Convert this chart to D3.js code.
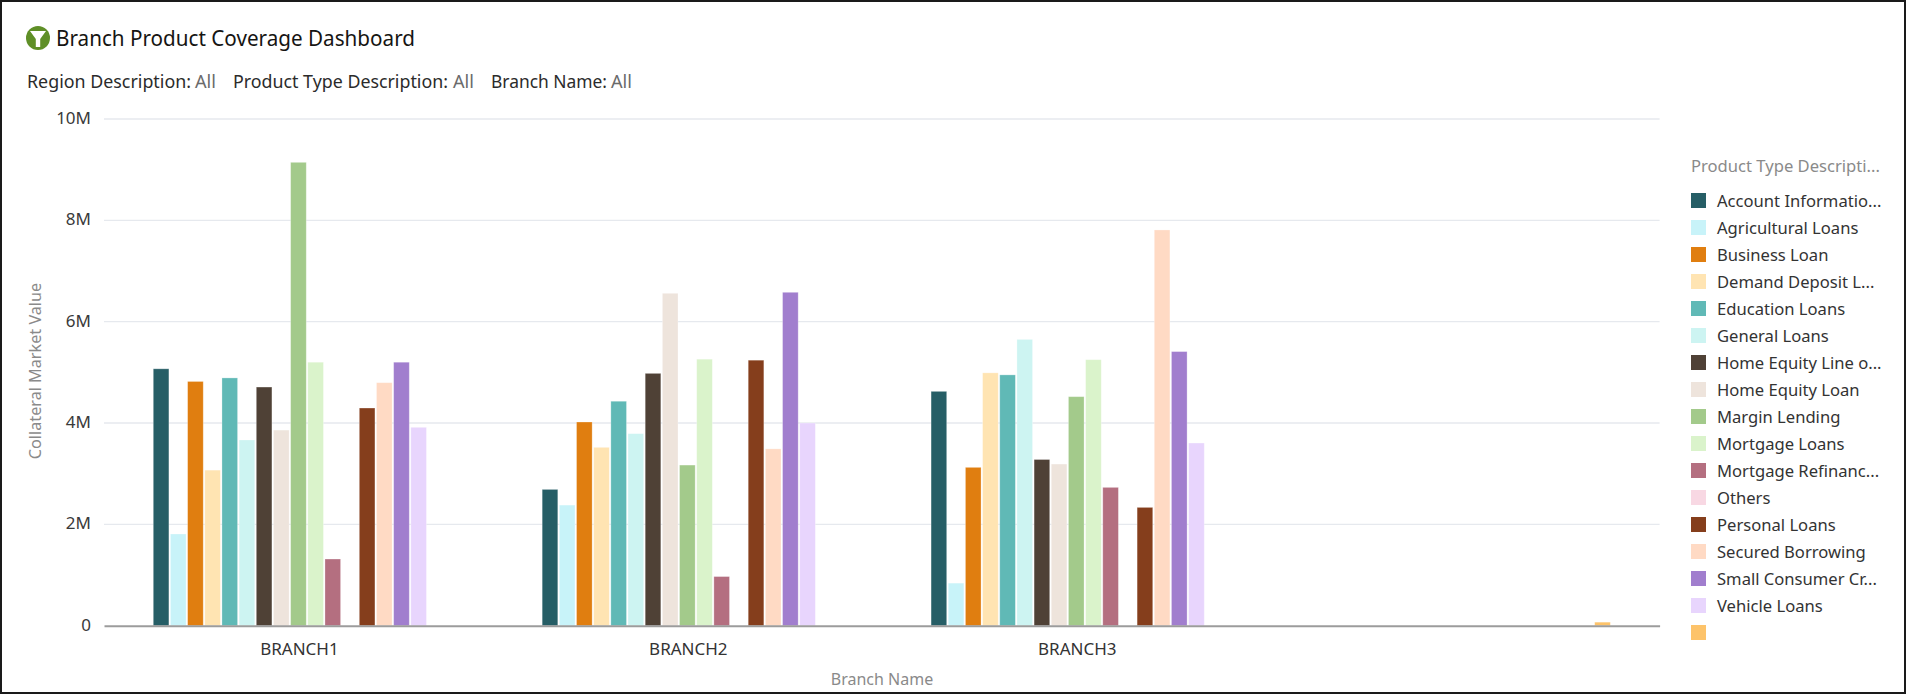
<!DOCTYPE html>
<html><head><meta charset="utf-8">
<style>
html,body{margin:0;padding:0;background:#fff;overflow:hidden}
text{font-family:"Noto Sans",sans-serif}
</style>
<script src="https://cdn.jsdelivr.net/npm/d3@7"></script>
</head><body>
<svg id="c" width="1907" height="695"></svg>
<script>
const branches = ["BRANCH1","BRANCH2","BRANCH3",""];
const seriesNames = ["Account Information Loans","Agricultural Loans","Business Loan","Demand Deposit Loans","Education Loans","General Loans","Home Equity Line of Credit","Home Equity Loan","Margin Lending","Mortgage Loans","Mortgage Refinance","Others","Personal Loans","Secured Borrowing","Small Consumer Credit","Vehicle Loans",""];
const legendLabels = ["Account Informatio...","Agricultural Loans","Business Loan","Demand Deposit L...","Education Loans","General Loans","Home Equity Line o...","Home Equity Loan","Margin Lending","Mortgage Loans","Mortgage Refinanc...","Others","Personal Loans","Secured Borrowing","Small Consumer Cr...","Vehicle Loans",""];
const colors = ["#265e66","#c8f3f9","#e07e10","#ffe4b2","#60b9b6","#cdf4f2","#4f4136","#eee4dc","#a3ca8b","#daf3cb","#b46f80","#f8d8e3","#853e1c","#ffdac4","#a17ece","#e8d5fd","#fdc36a"];
const branch1 = [5.07,1.81,4.82,3.07,4.89,3.665,4.71,3.86,9.145,5.2,1.316,null,4.296,4.796,5.2,3.915,null];
const branch2 = [2.69,2.38,4.02,3.52,4.43,3.79,4.98,6.56,3.17,5.26,0.97,null,5.24,3.49,6.58,4.0,null];
const branch3 = [4.625,0.84,3.125,4.99,4.95,5.65,3.28,3.19,4.52,5.25,2.73,null,2.335,7.81,5.41,3.605,null];
const branch4 = [null,null,null,null,null,null,null,null,null,null,null,null,null,null,null,null,0.07];
const valuesByBranch = [branch1,branch2,branch3,branch4];
const yTicks = [0,2,4,6,8,10];
const filterNames = ["Region Description:","Product Type Description:","Branch Name:"];
const filterValues = ["All","All","All"];

const svg = d3.select("#c");
svg.append("rect").attr("x",1).attr("y",1).attr("width",1904).attr("height",692)
  .attr("fill","#fff").attr("stroke","#1a1a1a").attr("stroke-width",2);

// header
const icon = svg.append("g").attr("transform","translate(38,38)");
icon.append("circle").attr("r",12).attr("fill","#5f8f27");
icon.append("path").attr("d","M-8,-7 L8,-7 L2.2,1 L2.2,9 L-2.2,9 L-2.2,1 Z").attr("fill","#fff");
svg.append("text").attr("x",56).attr("y",45.5).attr("font-size",21).attr("fill","#161513")
  .attr("textLength",359).attr("lengthAdjust","spacingAndGlyphs").text("Branch Product Coverage Dashboard");
const filterLayout = [[27,164,195],[233,215,453],[491,116,611]];
filterNames.forEach((name,i)=>{
  const l = filterLayout[i];
  svg.append("text").attr("x",l[0]).attr("y",88).attr("font-size",18).attr("fill","#2b2b2b")
    .attr("textLength",l[1]).attr("lengthAdjust","spacingAndGlyphs").text(name);
  svg.append("text").attr("x",l[2]).attr("y",88).attr("font-size",18).attr("fill","#6b6b6b")
    .attr("textLength",21).attr("lengthAdjust","spacingAndGlyphs").text(filterValues[i]);
});

// scales
const x0 = d3.scaleBand().domain(d3.range(branches.length)).range([104,1659.6]);
const x1 = d3.scaleBand().domain(seriesNames).range([0,x0.bandwidth()]).paddingInner(0.09).paddingOuter(2.87);
const y = d3.scaleLinear().domain([0,10]).range([625.7,119]);

// grid
svg.append("g").selectAll("line").data(yTicks.filter(d=>d>0)).join("line")
  .attr("x1",104).attr("x2",1659.6).attr("y1",d=>y(d)).attr("y2",d=>y(d))
  .attr("stroke","#e6e9ee").attr("stroke-width",1.3);

// bars
const groups = svg.append("g").selectAll("g").data(valuesByBranch).join("g")
  .attr("transform",(d,i)=>`translate(${x0(i)},0)`);
groups.selectAll("rect").data(d=>d.map((v,i)=>({v,i})).filter(e=>e.v!==null)).join("rect")
  .attr("x",e=>x1(seriesNames[e.i])).attr("width",x1.bandwidth())
  .attr("y",e=>y(e.v)).attr("height",e=>y(0)-y(e.v))
  .attr("fill",e=>colors[e.i]).attr("stroke","#fff").attr("stroke-opacity",0.35).attr("stroke-width",0.8);

// axes
const yAxis = d3.axisLeft(y).tickValues(yTicks).tickSize(0).tickPadding(13)
  .tickFormat(d=>d===0?"0":d+"M");
const gy = svg.append("g").attr("transform","translate(104,-1)").call(yAxis);
gy.select(".domain").remove();
gy.selectAll("text").attr("font-size",17).attr("fill","#3a3a3a").style("font-family",'"Noto Sans",sans-serif');

const xAxis = d3.axisBottom(d3.scaleBand().domain(branches).range([104,1659.6])).tickSize(0).tickPadding(17);
const gx = svg.append("g").attr("transform","translate(0,625.7)").call(xAxis);
gx.select(".domain").attr("stroke","#9c9c9c").attr("stroke-width",2);
gx.selectAll("text").attr("font-size",17).attr("dx",1).attr("fill","#333").style("font-family",'"Noto Sans",sans-serif');

svg.append("text").attr("x",882).attr("y",685).attr("text-anchor","middle").attr("font-size",16)
  .attr("fill","#8a8a8a").text("Branch Name");
svg.append("text").attr("transform","translate(41,371) rotate(-90)").attr("text-anchor","middle")
  .attr("font-size",16.2).attr("fill","#8a8a8a").text("Collateral Market Value");

// legend
svg.append("text").attr("x",1691).attr("y",172).attr("font-size",16.6).attr("fill","#8a8a8a").text("Product Type Descripti...");
const legendY = d3.scalePoint().domain(d3.range(seriesNames.length)).range([193,625]);
const lg = svg.append("g").selectAll("g").data(legendLabels).join("g")
  .attr("transform",(d,i)=>`translate(1691,${legendY(i)})`);
lg.append("rect").attr("width",15).attr("height",15).attr("fill",(d,i)=>colors[i]);
lg.append("text").attr("x",26).attr("y",14).attr("font-size",16.6).attr("fill","#333").text(d=>d);
</script>
</body></html>
